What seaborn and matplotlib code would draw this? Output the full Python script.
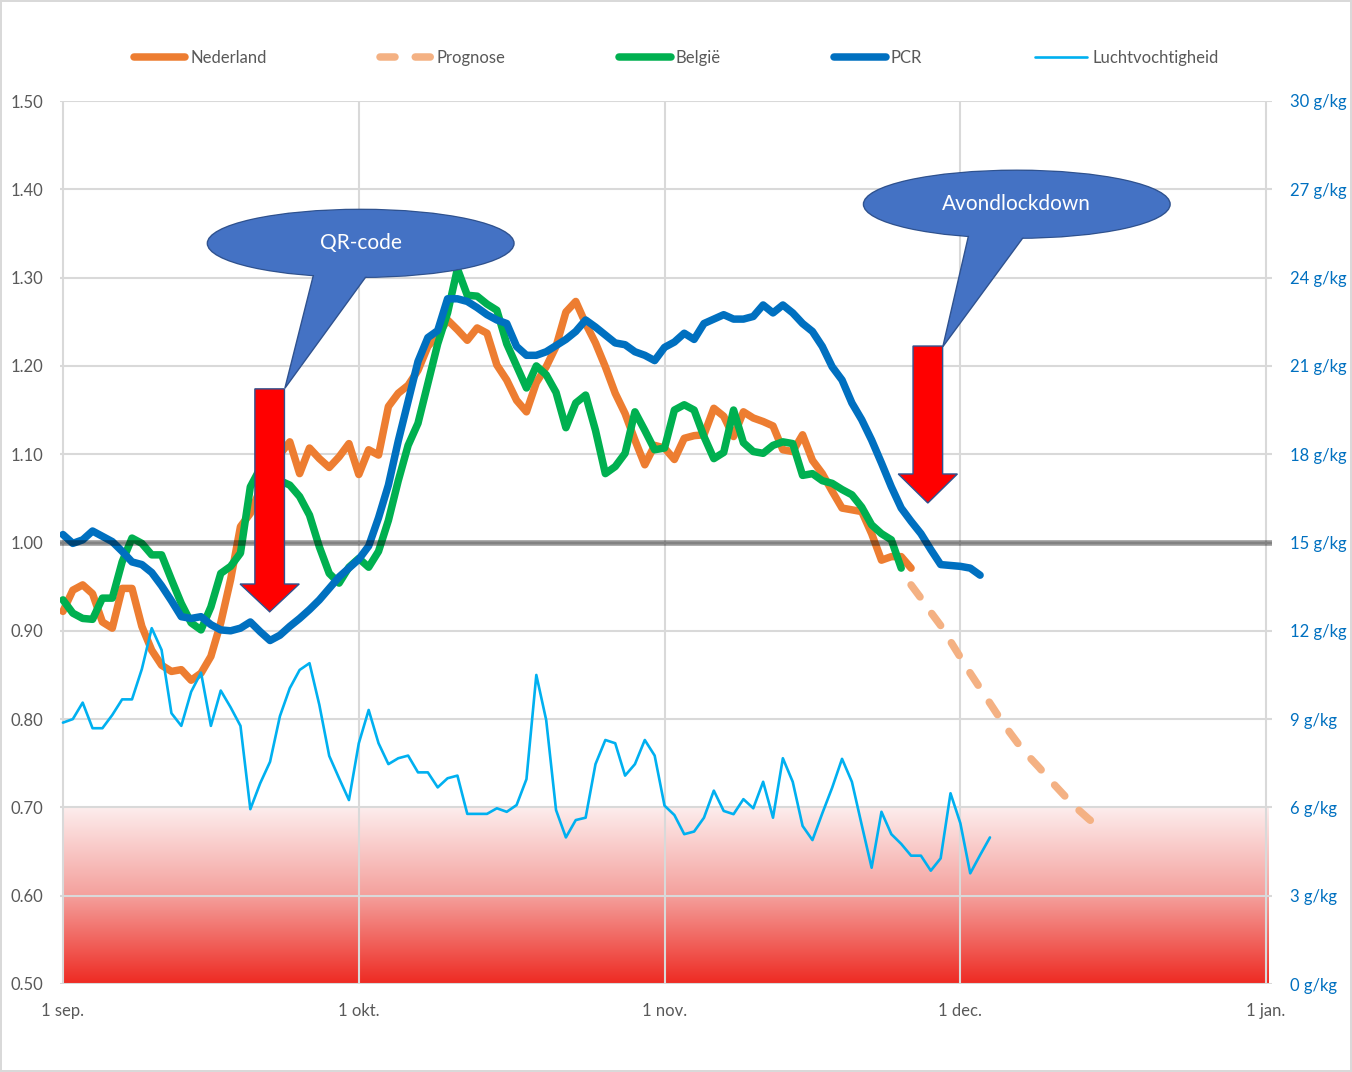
import pandas as pd
import matplotlib
matplotlib.use('Agg')
import matplotlib.pyplot as plt
import matplotlib.dates as mdates
from matplotlib.colors import LinearSegmentedColormap
from matplotlib.patches import Ellipse, Polygon
import numpy as np
import seaborn as sns

# dagelijkse waarden vanaf 1 sep. 2021
start = '2021-09-01'
nederland = [0.922, 0.946, 0.952, 0.942, 0.910, 0.903, 0.948, 0.948, 0.905, 0.878,
             0.861, 0.854, 0.856, 0.844, 0.852, 0.871, 0.909, 0.958, 1.018, 1.033,
             1.060, 1.085, 1.100, 1.114, 1.078, 1.107, 1.095, 1.085, 1.097, 1.112,
             1.077, 1.105, 1.099, 1.154, 1.169, 1.178, 1.195, 1.222, 1.235, 1.252,
             1.241, 1.229, 1.243, 1.237, 1.201, 1.184, 1.161, 1.148, 1.181, 1.199,
             1.222, 1.261, 1.273, 1.248, 1.226, 1.199, 1.169, 1.146, 1.116, 1.088,
             1.110, 1.107, 1.094, 1.118, 1.121, 1.122, 1.152, 1.143, 1.120, 1.148,
             1.141, 1.137, 1.132, 1.105, 1.103, 1.122, 1.093, 1.078, 1.058, 1.039,
             1.037, 1.035, 1.010, 0.980, 0.984, 0.984, 0.971]
belgie = [0.935, 0.920, 0.914, 0.913, 0.937, 0.937, 0.978, 1.005, 0.999, 0.986,
          0.986, 0.958, 0.931, 0.909, 0.901, 0.927, 0.965, 0.973, 0.988, 1.063,
          1.084, 1.078, 1.070, 1.065, 1.052, 1.031, 0.995, 0.965, 0.954, 0.972,
          0.982, 0.972, 0.990, 1.025, 1.070, 1.110, 1.135, 1.180, 1.225, 1.260,
          1.310, 1.280, 1.279, 1.270, 1.263, 1.225, 1.200, 1.175, 1.200, 1.190,
          1.170, 1.130, 1.158, 1.167, 1.127, 1.078, 1.086, 1.101, 1.148, 1.127,
          1.105, 1.107, 1.150, 1.156, 1.150, 1.120, 1.095, 1.102, 1.150, 1.113,
          1.103, 1.101, 1.110, 1.114, 1.112, 1.076, 1.078, 1.070, 1.067, 1.060,
          1.054, 1.040, 1.020, 1.010, 1.003, 0.971]
pcr = [1.009, 0.999, 1.003, 1.013, 1.007, 1.001, 0.990, 0.978, 0.975, 0.966,
       0.951, 0.934, 0.916, 0.914, 0.916, 0.907, 0.901, 0.900, 0.903, 0.910,
       0.899, 0.889, 0.895, 0.905, 0.914, 0.924, 0.935, 0.948, 0.961, 0.971,
       0.981, 0.996, 1.028, 1.065, 1.115, 1.160, 1.205, 1.232, 1.240, 1.276,
       1.276, 1.273, 1.266, 1.258, 1.252, 1.248, 1.222, 1.212, 1.212, 1.216,
       1.223, 1.230, 1.239, 1.252, 1.244, 1.235, 1.226, 1.224, 1.216, 1.212,
       1.206, 1.221, 1.227, 1.237, 1.230, 1.248, 1.253, 1.258, 1.253, 1.253,
       1.256, 1.269, 1.260, 1.269, 1.260, 1.248, 1.239, 1.222, 1.199, 1.184,
       1.158, 1.139, 1.116, 1.090, 1.063, 1.039, 1.024, 1.010, 0.992, 0.975,
       0.974, 0.973, 0.971, 0.963]
luchtvochtigheid = [8.88, 9.00, 9.56, 8.69, 8.69, 9.14, 9.67, 9.67, 10.70, 12.09,
                    11.35, 9.20, 8.77, 9.93, 10.58, 8.77, 9.97, 9.40, 8.77, 5.94,
                    6.82, 7.55, 9.10, 10.05, 10.67, 10.90, 9.48, 7.75, 6.99, 6.25,
                    8.18, 9.31, 8.18, 7.47, 7.67, 7.76, 7.19, 7.19, 6.68, 6.99,
                    7.08, 5.78, 5.78, 5.78, 5.97, 5.85, 6.08, 6.96, 10.50, 8.97,
                    5.91, 4.98, 5.57, 5.65, 7.47, 8.29, 8.18, 7.08, 7.47, 8.29,
                    7.76, 6.06, 5.74, 5.09, 5.18, 5.65, 6.57, 5.88, 5.77, 6.28,
                    5.97, 6.87, 5.65, 7.67, 6.87, 5.37, 4.89, 5.80, 6.67, 7.65,
                    6.87, 5.40, 3.95, 5.85, 5.09, 4.76, 4.36, 4.36, 3.85, 4.27,
                    6.48, 5.46, 3.76, 4.38, 4.98]
prognose_start = '2021-11-26'
prognose = [0.952, 0.937, 0.921, 0.906, 0.888, 0.870, 0.852, 0.835, 0.818, 0.801,
            0.785, 0.770, 0.757, 0.745, 0.732, 0.720, 0.708, 0.697, 0.687, 0.678]

maand_ticks = ['2021-09-01', '2021-10-01', '2021-11-01', '2021-12-01', '2022-01-01']
maand_labels = ['1 sep.', '1 okt.', '1 nov.', '1 dec.', '1 jan.']
r_ticks = [0.5, 0.6, 0.7, 0.8, 0.9, 1.0, 1.1, 1.2, 1.3, 1.4, 1.5]
g_ticks = [0, 3, 6, 9, 12, 15, 18, 21, 24, 27, 30]

sns.set_style('white')
plt.rcParams['font.family'] = ['Lato', 'DejaVu Sans']

fig = plt.figure(figsize=(13.52, 10.72), dpi=100)
fig.patch.set_edgecolor('#D9D9D9')
fig.patch.set_linewidth(1.5)
ax = fig.add_axes([60 / 1352, 1 - 984 / 1072, 1212 / 1352, 883 / 1072])

base = mdates.date2num(pd.Timestamp(start))

def dagen(s, n):
    return pd.date_range(s, periods=n, freq='D')

# rood verloop onder 0.70
kleur = LinearSegmentedColormap.from_list('rood', ['#EE2A22', '#F4A09C', '#FDEDED'])
verloop = np.linspace(0, 1, 256).reshape(-1, 1)
ax.imshow(verloop, extent=[base + 0.1, base + 122.2, 0.5, 0.7], aspect='auto',
          origin='lower', cmap=kleur, zorder=0.1)

lijn = dict(lw=5.4, solid_capstyle='round', solid_joinstyle='round')
sns.lineplot(x=dagen(start, len(nederland)), y=nederland, ax=ax, color='#ED7D31',
             label='Nederland', **lijn)
sns.lineplot(x=dagen(prognose_start, len(prognose)), y=prognose, ax=ax, color='#F4B183',
             lw=5.4, linestyle=(0, (2.0, 2.7)), dash_capstyle='round', label='Prognose')
sns.lineplot(x=dagen(start, len(belgie)), y=belgie, ax=ax, color='#00B050',
             label='België', **lijn)
sns.lineplot(x=dagen(start, len(pcr)), y=pcr, ax=ax, color='#0070C0',
             label='PCR', **lijn)
ax.axhline(1.0, color='black', alpha=0.4, lw=4.0, zorder=5)

ax.set_xlim(base - 0.3, base + 122.6)
ax.set_ylim(0.5, 1.5)
ax.set_yticks(r_ticks)
ax.set_yticklabels([f'{v:.2f}' for v in r_ticks])
ax.set_xticks(mdates.date2num(pd.to_datetime(maand_ticks)))
ax.set_xticklabels(maand_labels)
ax.grid(True, color='#D9D9D9', lw=1.5)
ax.set_axisbelow(True)
ax.tick_params(axis='both', length=0, colors='#595959', labelsize=12)
ax.tick_params(axis='y', pad=12)
ax.tick_params(axis='x', pad=14)
for s in ax.spines.values():
    s.set_visible(False)
ax.set_xlabel('')

ax2 = ax.twinx()
sns.lineplot(x=dagen(start, len(luchtvochtigheid)), y=luchtvochtigheid, ax=ax2,
             color='#00B0F0', lw=1.9, label='Luchtvochtigheid')
ax2.set_ylim(0, 30)
ax2.set_yticks(g_ticks)
ax2.set_yticklabels([f'{v} g/kg' for v in g_ticks])
ax2.tick_params(axis='y', length=0, colors='#0070C0', labelsize=12, pad=13)
for s in ax2.spines.values():
    s.set_visible(False)
ax2.set_ylabel('')

h1, l1 = ax.get_legend_handles_labels()
h2, l2 = ax2.get_legend_handles_labels()
for a in (ax, ax2):
    if a.get_legend() is not None:
        a.get_legend().remove()
fig.legend(h1 + h2, l1 + l2, loc='center', bbox_to_anchor=(676 / 1352, 1 - 58 / 1072),
           ncol=5, frameon=False, fontsize=12, labelcolor='#595959',
           handlelength=3.1, handletextpad=0.3, columnspacing=6.8)

# rode pijlen en tekstballonnen
def pijl(d, top, kop, punt, half_schacht=1.5, half_kop=3.0):
    x = base + d
    pts = [(x - half_schacht, top), (x + half_schacht, top), (x + half_schacht, kop),
           (x + half_kop, kop), (x, punt), (x - half_kop, kop), (x - half_schacht, kop)]
    ax2.add_patch(Polygon(pts, closed=True, fc='#FF0000', ec='#2F528F', lw=1,
                          transform=ax.transData, zorder=10, clip_on=False))

def ballon(d, y, tekst, staart):
    x = base + d
    ax2.add_patch(Ellipse((x, y), 31.1, 0.077, fc='#4472C4', ec='#2F528F', lw=1,
                          transform=ax.transData, zorder=11, clip_on=False))
    pts = [(base + px, py) for px, py in staart]
    ax2.add_patch(Polygon(pts, closed=True, fc='#4472C4', ec='#2F528F', lw=1,
                          transform=ax.transData, zorder=12, clip_on=False))
    ax2.add_patch(Ellipse((x, y), 30.7, 0.0755, fc='#4472C4', ec='none',
                          transform=ax.transData, zorder=13, clip_on=False))
    ax2.text(x, y, tekst, color='white', fontsize=15, ha='center', va='center',
             transform=ax.transData, zorder=14)

pijl(20.96, 1.174, 0.953, 0.9215)
pijl(87.7, 1.2225, 1.0776, 1.0447)
ballon(30.19, 1.3388, 'QR-code', [(25.56, 1.31), (31.31, 1.31), (22.5, 1.1746)])
ballon(96.72, 1.3831, 'Avondlockdown', [(91.92, 1.352), (97.8, 1.352), (89.22, 1.2217)])

fig.savefig('out.png', dpi=100)
